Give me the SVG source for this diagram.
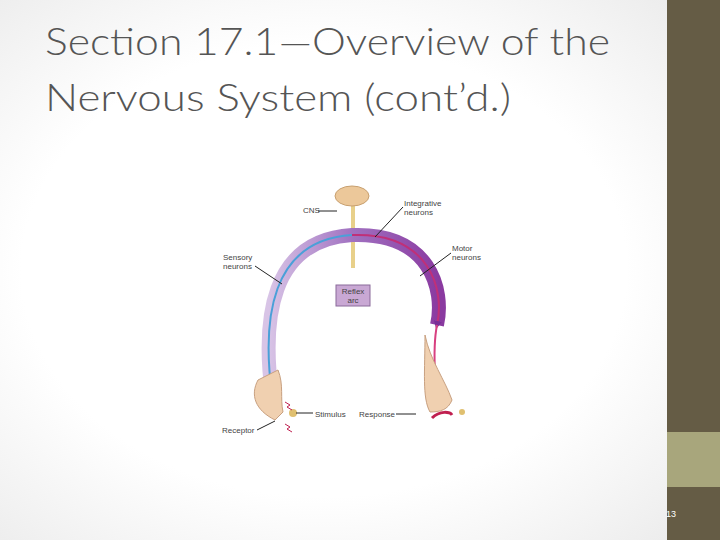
<svg xmlns="http://www.w3.org/2000/svg" width="720" height="540" viewBox="0 0 720 540">
<defs>
<radialGradient id="bg" cx="0.45" cy="0.5" r="0.7"><stop offset="0.6" stop-color="#ffffff"/><stop offset="1" stop-color="#ececec"/></radialGradient>
<linearGradient id="arc" x1="0" y1="0" x2="1" y2="0"><stop offset="0" stop-color="#d8c4e6"/><stop offset="0.5" stop-color="#a070c0"/><stop offset="1" stop-color="#8a3aa0"/></linearGradient>
<marker id="ah" viewBox="0 0 10 10" refX="5" refY="5" markerWidth="4" markerHeight="4" orient="auto"><path d="M0,0 L10,5 L0,10 z" fill="#7a2e96"/></marker>
<style>
.t{font-family:"Liberation Sans",Arial,sans-serif;font-size:8px;fill:#444}
.ld{stroke:#222;stroke-width:1;fill:none}
</style>
</defs>
<rect width="720" height="540" fill="url(#bg)"/>
<rect x="667" y="0" width="53" height="432" fill="#655c45"/>
<rect x="667" y="432" width="53" height="55" fill="#a8a67c"/>
<rect x="667" y="487" width="53" height="53" fill="#655c45"/>
<text x="666" y="517" font-family="Liberation Sans,sans-serif" font-size="9" fill="#ffffff">13</text>
<text font-family="Lato,'Open Sans',sans-serif" font-weight="300" font-size="38" fill="#555"><tspan x="45" y="55" textLength="565" lengthAdjust="spacingAndGlyphs">Section 17.1—Overview of the</tspan><tspan x="45" y="111" textLength="466" lengthAdjust="spacingAndGlyphs">Nervous System (cont’d.)</tspan></text>
<g id="cns">
<line x1="353" y1="205" x2="353" y2="268" stroke="#e8d08a" stroke-width="4"/>
<ellipse cx="352" cy="196" rx="17" ry="10" fill="#ecc89a" stroke="#c8a070" stroke-width="1"/>
<text class="t" x="303" y="213">CNS</text><line class="ld" x1="318" y1="211" x2="337" y2="211"/>
</g>
<g id="arcg">
<path d="M272,395 C262,320 270,240 352,235 C430,232 445,290 437,325" stroke="url(#arc)" stroke-width="14" fill="none"/>
<path d="M272,395 C262,320 270,240 352,235" stroke="#4aa0d8" stroke-width="2" fill="none"/>
<path d="M352,235 C430,232 445,290 437,325" stroke="#c03078" stroke-width="2" fill="none" marker-end="url(#ah)"/>
<path d="M437,325 C430,360 440,390 433,410" stroke="#d84080" stroke-width="2" fill="none"/>
<path d="M272,395 C272,405 275,410 276,415" stroke="#4aa0d8" stroke-width="2" fill="none"/>
</g>
<g id="hands">
<path d="M258,380 C250,395 255,410 275,420 L283,412 C280,398 284,385 278,370 Z" fill="#f0d0b0" stroke="#c8a080"/>
<path d="M425,335 C430,360 445,380 452,400 C448,410 440,412 430,412 C422,398 425,370 425,335 Z" fill="#f0d0b0" stroke="#c8a080"/>
<path d="M432,418 C440,410 450,412 452,415" stroke="#c02050" stroke-width="3" fill="none"/>
<circle cx="293" cy="413" r="4" fill="#e0c070"/><circle cx="462" cy="412" r="3" fill="#e0c070"/>
<path d="M285,402 l5,3 -3,2 5,3" stroke="#c02050" fill="none"/><path d="M285,424 l5,3 -3,2 5,3" stroke="#c02050" fill="none"/>
</g>
<g id="reflex"><rect x="336" y="285" width="34" height="21" fill="#c9a8d4" stroke="#8a6a9a"/>
<text class="t" x="353" y="294" text-anchor="middle">Reflex</text><text class="t" x="353" y="303" text-anchor="middle">arc</text></g>
<g id="labels">
<text class="t" x="404" y="206">Integrative</text><text class="t" x="404" y="215">neurons</text><line class="ld" x1="403" y1="207" x2="375" y2="237"/>
<text class="t" x="452" y="251">Motor</text><text class="t" x="452" y="260">neurons</text><line class="ld" x1="451" y1="253" x2="420" y2="276"/>
<text class="t" x="223" y="260">Sensory</text><text class="t" x="223" y="269">neurons</text><line class="ld" x1="255" y1="266" x2="282" y2="284"/>
<text class="t" x="315" y="417">Stimulus</text><line class="ld" x1="296" y1="413" x2="313" y2="413" stroke-width="2"/>
<text class="t" x="359" y="417">Response</text><line class="ld" x1="396" y1="414" x2="416" y2="414"/>
<text class="t" x="222" y="433">Receptor</text><line class="ld" x1="257" y1="430" x2="275" y2="421"/>
</g>
</svg>
